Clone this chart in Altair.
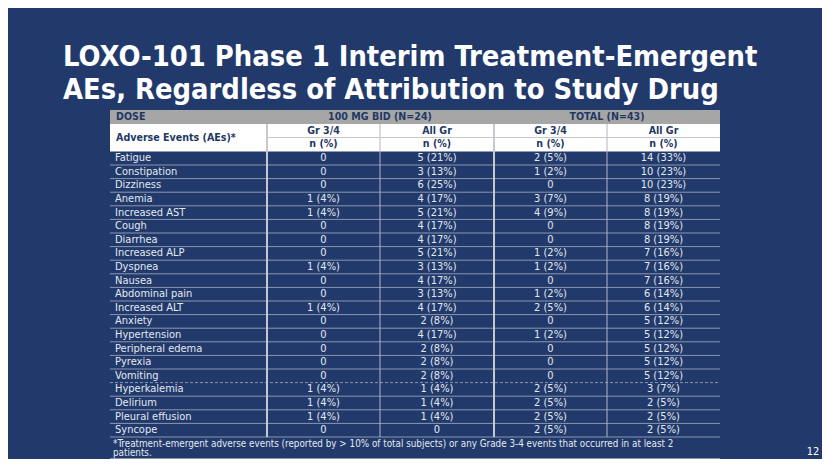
import altair as alt
import pandas as pd

# ---------------- data ----------------
title_lines = ["LOXO-101 Phase 1 Interim Treatment-Emergent",
               "AEs, Regardless of Attribution to Study Drug"]

events = ["Fatigue", "Constipation", "Dizziness", "Anemia", "Increased AST", "Cough",
          "Diarrhea", "Increased ALP", "Dyspnea", "Nausea", "Abdominal pain",
          "Increased ALT", "Anxiety", "Hypertension", "Peripheral edema", "Pyrexia",
          "Vomiting", "Hyperkalemia", "Delirium", "Pleural effusion", "Syncope"]
dose_gr34 = ["0", "0", "0", "1 (4%)", "1 (4%)", "0", "0", "0", "1 (4%)", "0", "0",
             "1 (4%)", "0", "0", "0", "0", "0", "1 (4%)", "1 (4%)", "1 (4%)", "0"]
dose_all = ["5 (21%)", "3 (13%)", "6 (25%)", "4 (17%)", "5 (21%)", "4 (17%)", "4 (17%)",
            "5 (21%)", "3 (13%)", "4 (17%)", "3 (13%)", "4 (17%)", "2 (8%)", "4 (17%)",
            "2 (8%)", "2 (8%)", "2 (8%)", "1 (4%)", "1 (4%)", "1 (4%)", "0"]
total_gr34 = ["2 (5%)", "1 (2%)", "0", "3 (7%)", "4 (9%)", "0", "0", "1 (2%)", "1 (2%)",
              "0", "1 (2%)", "2 (5%)", "0", "1 (2%)", "0", "0", "0", "2 (5%)", "2 (5%)",
              "2 (5%)", "2 (5%)"]
total_all = ["14 (33%)", "10 (23%)", "10 (23%)", "8 (19%)", "8 (19%)", "8 (19%)",
             "8 (19%)", "7 (16%)", "7 (16%)", "7 (16%)", "6 (14%)", "6 (14%)",
             "5 (12%)", "5 (12%)", "5 (12%)", "5 (12%)", "5 (12%)", "3 (7%)",
             "2 (5%)", "2 (5%)", "2 (5%)"]

dose_header = ["DOSE", "100 MG BID (N=24)", "TOTAL (N=43)"]
col_header = ["Adverse Events (AEs)*", "Gr 3/4", "All Gr", "Gr 3/4", "All Gr"]
unit_header = "n (%)"
footnote = ["*Treatment-emergent adverse events (reported by > 10% of total subjects) or any Grade 3-4 events that occurred in at least 2",
            "patients."]
page_number = "12"

# ---------------- layout (page pixel coordinates) ----------------
W, H = 814, 451
COLS = [110, 267, 380, 494, 607, 720]
DOSE_TOP, GR_TOP, N_TOP, DATA_TOP = 110, 124, 137.5, 151.4
ROW_H = 13.6
DASH_AFTER = 17
FOOT_BOTTOM = 458.5

BG = "#213A6B"
NAVY_TXT = "#1F3864"
CELL_TXT = "#E4E8F0"
FONT = "DejaVu Sans Condensed"

xs = alt.Scale(domain=[8, 8 + W], nice=False, zero=False)
ys = alt.Scale(domain=[8 + H, 8], nice=False, zero=False)


def X(f="x"):
    return alt.X(f"{f}:Q", scale=xs, axis=None)


def Y(f="y"):
    return alt.Y(f"{f}:Q", scale=ys, axis=None)


n = len(events)
data_bottom = DATA_TOP + n * ROW_H
centers = [(COLS[i] + COLS[i + 1]) / 2 for i in range(5)]

# ---- rectangles (header bands) ----
rects = pd.DataFrame([
    {"x": COLS[0], "x2": COLS[5], "y": DOSE_TOP, "y2": GR_TOP, "c": "#A6A6A6"},
    {"x": COLS[0], "x2": COLS[5], "y": GR_TOP, "y2": DATA_TOP, "c": "#FFFFFF"},
])
rect_layer = alt.Chart(rects).mark_rect().encode(
    x=X(), x2="x2:Q", y=Y(), y2="y2:Q", color=alt.Color("c:N", scale=None))

# ---- lines ----
hl = []
for i in range(1, n + 1):
    y = DATA_TOP + i * ROW_H
    hl.append({"x": COLS[0], "x2": COLS[5], "y": y, "y2": y,
               "kind": "dash" if i == DASH_AFTER else "solid"})
hl.append({"x": COLS[0], "x2": COLS[5], "y": FOOT_BOTTOM, "y2": FOOT_BOTTOM, "kind": "solid"})
hlines = pd.DataFrame(hl)
solid = alt.Chart(hlines[hlines.kind == "solid"]).mark_rule(
    color="#8C97AE", strokeWidth=1).encode(x=X(), x2="x2:Q", y=Y(), y2="y2:Q")
dashed = alt.Chart(hlines[hlines.kind == "dash"]).mark_rule(
    color="#8C97AE", strokeWidth=1, strokeDash=[3, 2]).encode(x=X(), x2="x2:Q", y=Y(), y2="y2:Q")

vmajor = pd.DataFrame([{"x": COLS[1], "y": GR_TOP, "y2": data_bottom},
                       {"x": COLS[3], "y": GR_TOP, "y2": data_bottom}])
vminor = pd.DataFrame([{"x": COLS[2], "y": GR_TOP, "y2": data_bottom},
                       {"x": COLS[4], "y": GR_TOP, "y2": data_bottom}])
vmaj_layer = alt.Chart(vmajor).mark_rule(color="#C4C8D0", strokeWidth=2).encode(
    x=X(), y=Y(), y2="y2:Q")
vmin_layer = alt.Chart(vminor).mark_rule(color="#B0B6C2", strokeWidth=1).encode(
    x=X(), y=Y(), y2="y2:Q")
hdr_line = alt.Chart(pd.DataFrame([{"x": COLS[1], "x2": COLS[5], "y": N_TOP, "y2": N_TOP}])).mark_rule(
    color="#C8C8C8", strokeWidth=1).encode(x=X(), x2="x2:Q", y=Y(), y2="y2:Q")

# ---- header text ----
ht = [
    {"x": COLS[0] + 6, "y": (DOSE_TOP + GR_TOP) / 2, "t": dose_header[0], "a": "left"},
    {"x": COLS[2], "y": (DOSE_TOP + GR_TOP) / 2, "t": dose_header[1], "a": "center"},
    {"x": COLS[4], "y": (DOSE_TOP + GR_TOP) / 2, "t": dose_header[2], "a": "center"},
    {"x": COLS[0] + 6, "y": (GR_TOP + DATA_TOP) / 2, "t": col_header[0], "a": "left"},
]
for j in range(1, 5):
    ht.append({"x": centers[j], "y": (GR_TOP + N_TOP) / 2, "t": col_header[j], "a": "center"})
    ht.append({"x": centers[j], "y": (N_TOP + DATA_TOP) / 2, "t": unit_header, "a": "center"})
hdf = pd.DataFrame(ht)
hdr_left = alt.Chart(hdf[hdf.a == "left"]).mark_text(
    align="left", baseline="middle", font=FONT, fontSize=10.6, fontWeight="bold", color=NAVY_TXT
).encode(x=X(), y=Y(), text="t:N")
hdr_center = alt.Chart(hdf[hdf.a == "center"]).mark_text(
    align="center", baseline="middle", font=FONT, fontSize=10.6, fontWeight="bold", color=NAVY_TXT
).encode(x=X(), y=Y(), text="t:N")

# ---- body text ----
rows = []
for i in range(n):
    y = DATA_TOP + (i + 0.5) * ROW_H
    rows.append({"x": COLS[0] + 5, "y": y, "t": events[i], "a": "left"})
    for j, col in enumerate([dose_gr34, dose_all, total_gr34, total_all]):
        rows.append({"x": centers[j + 1], "y": y, "t": col[i], "a": "center"})
bdf = pd.DataFrame(rows)
body_left = alt.Chart(bdf[bdf.a == "left"]).mark_text(
    align="left", baseline="middle", font=FONT, fontSize=11, color=CELL_TXT
).encode(x=X(), y=Y(), text="t:N")
body_center = alt.Chart(bdf[bdf.a == "center"]).mark_text(
    align="center", baseline="middle", font=FONT, fontSize=11, color=CELL_TXT
).encode(x=X(), y=Y(), text="t:N")

# ---- footnote ----
fdf = pd.DataFrame([{"x": COLS[0] + 3, "y": 443.5, "t": footnote[0]},
                    {"x": COLS[0] + 3, "y": 453.3, "t": footnote[1]}])
foot = alt.Chart(fdf).mark_text(
    align="left", baseline="middle", font=FONT, fontSize=9.8, color=CELL_TXT
).encode(x=X(), y=Y(), text="t:N")

# ---- title ----
tdf = pd.DataFrame([{"x": 63, "y": 66, "t": title_lines[0]},
                    {"x": 63, "y": 99, "t": title_lines[1]}])
title = alt.Chart(tdf).mark_text(
    align="left", baseline="alphabetic", font=FONT, fontSize=28.8, fontWeight="bold", color="#FFFFFF"
).encode(x=X(), y=Y(), text="t:N")

pdf = pd.DataFrame([{"x": 813, "y": 452, "t": page_number}])
page = alt.Chart(pdf).mark_text(
    align="center", baseline="middle", font=FONT, fontSize=11, color="#FFFFFF"
).encode(x=X(), y=Y(), text="t:N")

chart = alt.layer(
    rect_layer, solid, dashed, vmin_layer, vmaj_layer, hdr_line,
    hdr_left, hdr_center, body_left, body_center, foot, title, page
).properties(
    width=W, height=H, background=BG, padding=0, autosize=alt.AutoSizeParams(type="none")
).configure_view(stroke=None)

chart.save("out.html", embed_options={"renderer": "svg", "actions": False})
